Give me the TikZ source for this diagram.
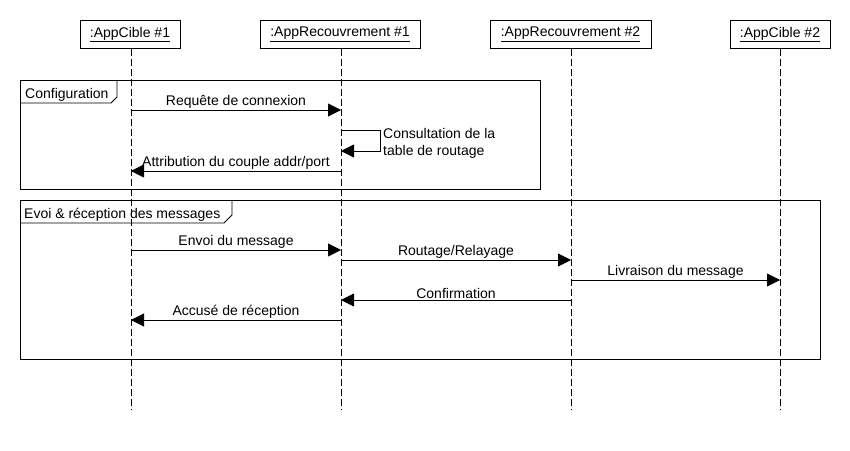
\documentclass[tikz,border=0pt]{standalone}
\usepackage{fontspec}
\setmainfont{Liberation Sans}
\usetikzlibrary{arrows.meta}
\begin{document}
\begin{tikzpicture}[x=1pt,y=-1pt,
  every node/.style={font=\fontsize{14}{16}\selectfont},
  obj/.style={draw,line width=0.8pt,minimum height=28pt,inner sep=0pt,anchor=north},
  life/.style={line width=0.8pt,dash pattern=on 7pt off 3pt},
  msg/.style={line width=0.8pt,-{Triangle[length=13pt,width=13pt]}},
  lbl/.style={inner sep=1pt,anchor=base},
  frm/.style={draw,line width=0.8pt}]
\useasboundingbox[fill=white] (0,0) rectangle (850,450);
% objects
\node[obj,minimum width=100pt] (o1) at (130,20) {\underline{:AppCible \#1}};
\node[obj,minimum width=160pt] (o2) at (340,20) {\underline{:AppRecouvrement \#1}};
\node[obj,minimum width=161pt] (o3) at (570.5,20) {\underline{:AppRecouvrement \#2}};
\node[obj,minimum width=100pt] (o4) at (780,20) {\underline{:AppCible \#2}};
% lifeline ends
\coordinate (e1) at (131,410);
\coordinate (e2) at (341,410);
\coordinate (e3) at (571,410);
\coordinate (e4) at (780,410);
\draw[life] (o1.south -| e1) -- (e1);
\draw[life] (o2.south -| e2) -- (e2);
\draw[life] (o3.south -| e3) -- (e3);
\draw[life] (o4.south -| e4) -- (e4);
% frame 1
\draw[frm] (20,80) rectangle (540,189);
\draw[frm] (117,80) -- (117,97) -- (111,103) -- (20,103);
\node[anchor=base west,inner sep=0pt] (f1) at (25,98) {Configuration};
% frame 2
\draw[frm] (20,200) rectangle (820,359);
\draw[frm] (232,200) -- (232,215) -- (224,223) -- (20,223);
\node[anchor=base west,inner sep=0pt] (f2) at (24,218) {Evoi \& réception des messages};
% messages
\coordinate (a1) at (131,110); \coordinate (a2) at (341,110);
\draw[msg] (a1) -- (a2) node[lbl,midway,above=0pt] {Requête de connexion};
\coordinate (s1) at (341,130); \coordinate (s2) at (380,130);
\coordinate (s3) at (380,151); \coordinate (s4) at (341,151);
\draw[msg] (s1) -- (s2) -- (s3) -- (s4);
\node[anchor=north west,align=left,inner sep=0pt,font=\fontsize{14}{17}\selectfont] (self) at (383,128) {Consultation de la\\table de routage};
\coordinate (b1) at (341,171); \coordinate (b2) at (131,171);
\draw[msg] (b1) -- (b2) node[lbl,midway,above=0pt] {Attribution du couple addr/port};

\coordinate (c1) at (131,250); \coordinate (c2) at (341,250);
\draw[msg] (c1) -- (c2) node[lbl,midway,above=0pt] {Envoi du message};
\coordinate (d1) at (341,260); \coordinate (d2) at (571,260);
\draw[msg] (d1) -- (d2) node[lbl,midway,above=0pt] {Routage/Relayage};
\coordinate (g1) at (571,280); \coordinate (g2) at (780,280);
\draw[msg] (g1) -- (g2) node[lbl,midway,above=0pt] {Livraison du message};
\coordinate (h1) at (571,300); \coordinate (h2) at (341,300);
\draw[msg] (h1) -- (h2) node[lbl,midway,above=0pt] {Confirmation};
\coordinate (k1) at (341,320); \coordinate (k2) at (131,320);
\draw[msg] (k1) -- (k2) node[lbl,midway,above=0pt] {Accusé de réception};
\end{tikzpicture}
\end{document}
